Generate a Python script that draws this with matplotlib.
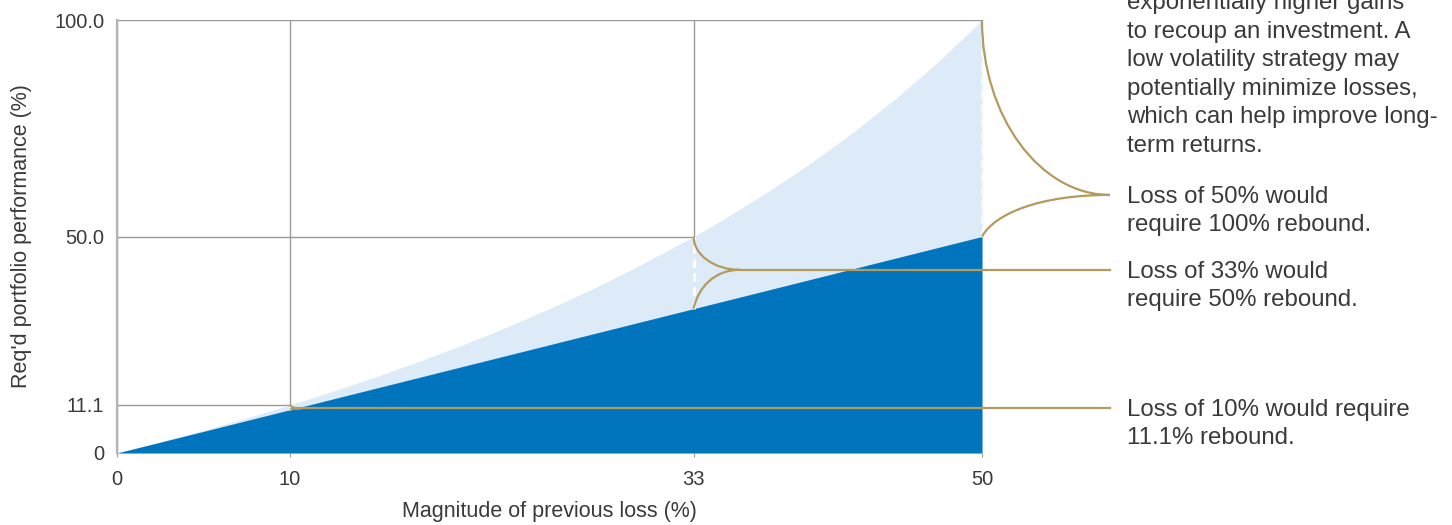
import matplotlib
matplotlib.use("Agg")
from matplotlib import pyplot as plt
from matplotlib.path import Path
from matplotlib.patches import PathPatch

plt.rcParams["font.family"] = ["Liberation Sans", "DejaVu Sans"]

# perdida previa (%) -> rentabilidad necesaria para recuperar (%)
perdidas = [0, 2.5, 5, 7.5, 10, 12.5, 15, 17.5, 20, 22.5, 25, 27.5, 30,
            33.33, 35, 37.5, 40, 42.5, 45, 47.5, 50]
rebotes = [0, 2.56, 5.26, 8.11, 11.1, 14.29, 17.65, 21.21, 25.0, 29.03, 33.33,
           37.93, 42.86, 50.0, 53.85, 60.0, 66.67, 73.91, 81.82, 90.48, 100.0]

# casos destacados
perdidas_clave = [10, 33.33, 50]
rebotes_clave = [11.1, 50.0, 100.0]
textos_clave = [
    "Loss of 10% would require\n11.1% rebound.",
    "Loss of 33% would\nrequire 50% rebound.",
    "Loss of 50% would\nrequire 100% rebound.",
]

xticks = [0, 10, 33.33, 50]
xtick_labels = ["0", "10", "33", "50"]
yticks = [0, 11.1, 50, 100]
ytick_labels = ["0", "11.1", "50.0", "100.0"]

parrafo = ("exponentially higher gains\nto recoup an investment. A\n"
           "low volatility strategy may\npotentially minimize losses,\n"
           "which can help improve long-\nterm returns.")

# posicion de las llaves (solo maquetacion)
punta_x = [10.6, 36.0, 57.4]
punta_y = [10.3, 42.3, 59.6]
fin_linea = 57.4

AZUL = "#0075BE"
CELESTE = "#DCEBF7"
DORADO = "#B59A5C"
GRIS = "#999999"
TEXTO = "#3a3a3a"

fig = plt.figure(figsize=(14.52, 5.25), dpi=100)
ax = fig.add_axes([117 / 1452, 1 - 453 / 525, 865 / 1452, 433 / 525])
ax.set_xlim(0, 50)
ax.set_ylim(0, 100)

ax.set_axisbelow(True)
ax.grid(True, color=GRIS, lw=1)
for lado in ["top", "right", "bottom"]:
    ax.spines[lado].set_visible(False)
ax.spines["left"].set_color("#b5b5b5")
ax.spines["left"].set_linewidth(1.6)

ax.fill_between(perdidas, 0, rebotes, color=CELESTE, lw=0, zorder=2)
ax.fill_between(perdidas, 0, perdidas, color=AZUL, lw=0, zorder=3)

for p, r in zip(perdidas_clave, rebotes_clave):
    ax.plot([p, p], [p, r], color="white", lw=2, ls=(0, (3, 2)), zorder=4)


def llave(x0, y_arriba, y_abajo, xt, yt):
    verts = [(x0, y_arriba),
             (x0, y_arriba + 0.55 * (yt - y_arriba)),
             (x0 + 0.45 * (xt - x0), yt),
             (xt, yt),
             (x0 + 0.45 * (xt - x0), yt),
             (x0 + 0.1 * (xt - x0), y_abajo + 0.55 * (yt - y_abajo)),
             (x0, y_abajo)]
    codes = [Path.MOVETO, Path.CURVE4, Path.CURVE4, Path.CURVE4,
             Path.CURVE4, Path.CURVE4, Path.CURVE4]
    ax.add_patch(PathPatch(Path(verts, codes), fill=False, ec=DORADO,
                           lw=1.6, clip_on=False, zorder=5))


for p, r, xt, yt, txt in zip(perdidas_clave, rebotes_clave, punta_x,
                             punta_y, textos_clave):
    llave(p, r, p, xt, yt)
    ax.plot([xt, fin_linea], [yt, yt], color=DORADO, lw=1.6,
            clip_on=False, zorder=5)
    ax.annotate(txt, (fin_linea, yt), xytext=(12, 6.5),
                textcoords="offset points", ha="left", va="top",
                fontsize=17.3, color=TEXTO, linespacing=1.36,
                annotation_clip=False)

fig.text(1127 / 1452, 1 + 7.5 / 525, parrafo, ha="left", va="top",
         fontsize=17.3, color=TEXTO, linespacing=1.38)

ax.set_xticks(xticks)
ax.set_xticklabels(xtick_labels)
ax.set_yticks(yticks)
ax.set_yticklabels(ytick_labels)
ax.tick_params(axis="x", length=3, color=GRIS, pad=9, labelsize=14.5,
               labelcolor=TEXTO)
ax.tick_params(axis="y", length=0, pad=9, labelsize=14.5, labelcolor=TEXTO)

ax.set_xlabel("Magnitude of previous loss (%)", fontsize=15.5, color=TEXTO)
ax.set_ylabel("Req'd portfolio performance (%)", fontsize=15.5, color=TEXTO)
ax.xaxis.set_label_coords(0.5, -0.112)
ax.yaxis.set_label_coords(-0.098, 0.5)

fig.savefig("out.png", dpi=100)
